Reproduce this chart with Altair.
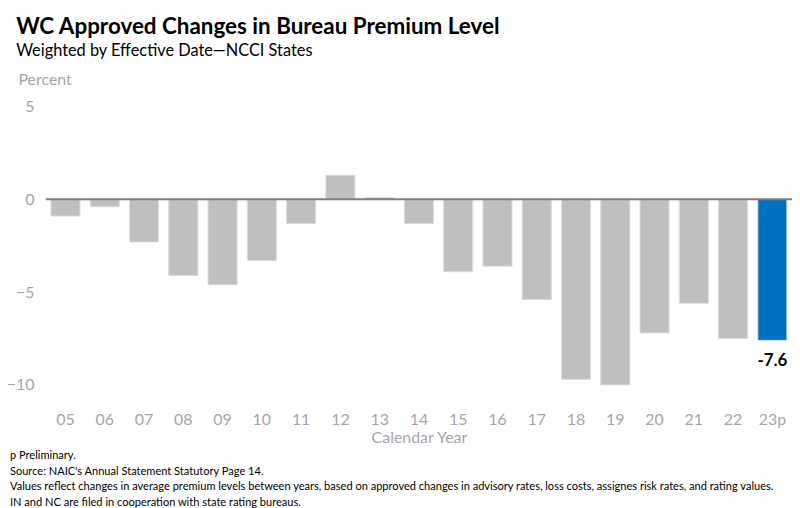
import altair as alt
import pandas as pd

years = ["05", "06", "07", "08", "09", "10", "11", "12", "13", "14",
         "15", "16", "17", "18", "19", "20", "21", "22", "23p"]
values = [-0.9, -0.4, -2.3, -4.1, -4.6, -3.3, -1.3, 1.3, 0.1, -1.3,
          -3.9, -3.6, -5.4, -9.7, -10.0, -7.2, -5.6, -7.5, -7.6]
highlight = ["23p"]
label_text = {"23p": "-7.6"}

footnotes = [
    "p Preliminary.",
    "Source: NAIC's Annual Statement Statutory Page 14.",
    "Values reflect changes in average premium levels between years, based on approved changes in advisory rates, loss costs, assignes risk rates, and rating values.",
    "IN and NC are filed in cooperation with state rating bureaus.",
]

df = pd.DataFrame({"year": years, "value": values})
df["hl"] = df["year"].isin(highlight).map({True: "yes", False: "no"})
df["label"] = df["year"].map(label_text).fillna("")

FONT = "Lato"
GRAY = "#a6a6a6"

x_enc = alt.X("year:N", sort=years,
              scale=alt.Scale(paddingInner=0.26, paddingOuter=0.13),
              axis=alt.Axis(title="Calendar Year", labelAngle=0, ticks=False, domain=False,
                            labelColor=GRAY, labelFontSize=16, labelPadding=8,
                            titleColor=GRAY, titleFontSize=16, titleFontWeight="normal",
                            titlePadding=2, labelFont=FONT, titleFont=FONT))
y_enc = alt.Y("value:Q", scale=alt.Scale(domain=[-11, 5], nice=False, zero=False),
              axis=alt.Axis(values=[-10, -5, 0, 5], grid=False, ticks=False, domain=False,
                            labelColor=GRAY, labelFontSize=16, labelPadding=12,
                            labelFont=FONT, title="Percent", titleAngle=0,
                            titleAlign="left", titleBaseline="middle",
                            titleX=-28, titleY=-27, titleColor=GRAY,
                            titleFontSize=16, titleFontWeight="normal", titleFont=FONT))

base = alt.Chart(df)

bars = base.mark_bar(stroke="#dcdcdc", strokeWidth=1).encode(
    x=x_enc, y=y_enc, y2=alt.datum(0),
    color=alt.Color("hl:N", scale=alt.Scale(domain=["no", "yes"], range=["#bfbfbf", "#0070c0"]),
                    legend=None),
)

zero = alt.Chart(pd.DataFrame({"z": [0]})).mark_rule(color="#7f7f7f", strokeWidth=2).encode(
    y=alt.Y("z:Q"))

labels = base.transform_filter(alt.datum.label != "").mark_text(
    baseline="top", dy=13, fontSize=17, fontWeight="bold", font=FONT, color="black"
).encode(x=alt.X("year:N", sort=years), y="value:Q", text="label:N")

foot = alt.Chart(pd.DataFrame({"t": ["\n".join(footnotes)]})).mark_text(
    align="left", baseline="top", fontSize=11.1, font=FONT, color="black", lineHeight=15.5,
    lineBreak="\n"
).encode(x=alt.value(-36), y=alt.value(345), text="t:N")

chart = alt.layer(bars, zero, labels, foot).properties(
    width=749, height=298,
    autosize=alt.AutoSizeParams(type="none"),
    padding={"left": 38, "top": 98, "right": 0, "bottom": 104},
    title=alt.TitleParams(
        text="WC Approved Changes in Bureau Premium Level",
        subtitle="Weighted by Effective Date\u2014NCCI States",
        anchor="start", frame="bounds", dx=10, offset=12, font=FONT, fontSize=22.5,
        fontWeight="bold", color="black", subtitleFont=FONT, subtitleFontSize=16.4,
        subtitleColor="black", subtitlePadding=5,
    ),
).configure_view(stroke=None)

chart.save("out.html", embed_options={"renderer": "svg", "actions": False})
